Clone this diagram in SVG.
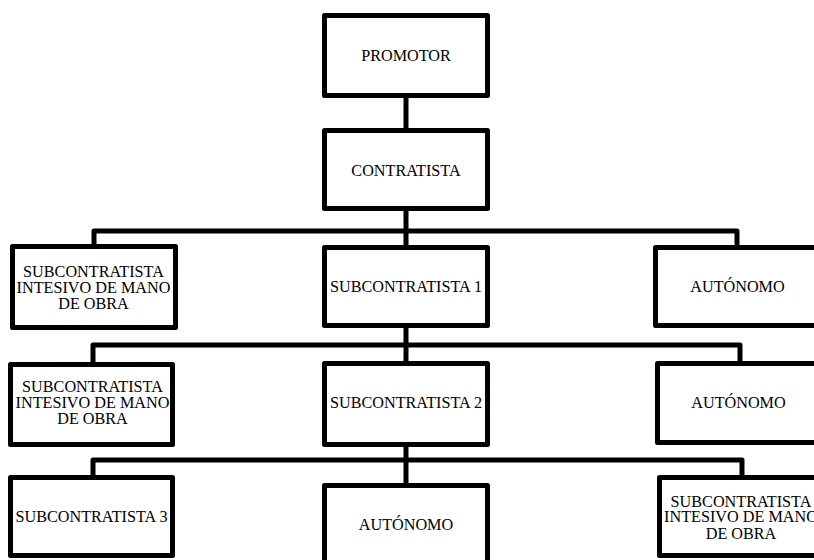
<svg xmlns="http://www.w3.org/2000/svg" width="814" height="560" viewBox="0 0 814 560">
<style>
.box{fill:#fff;stroke:#000;stroke-width:5;stroke-linejoin:round}
.con{fill:none;stroke:#000;stroke-width:5;stroke-linejoin:round}
text{font-family:"Liberation Serif","Times New Roman",serif;font-size:16.2px;fill:#000;text-anchor:middle}
</style>
<rect width="814" height="560" fill="#fff"/>
<g id="connectors">
<path class="con" d="M406 98V128"/>
<path class="con" d="M406 211V231M94 244V231H737V245M406 231V245"/>
<path class="con" d="M406 328V345M93 362V345H740V361M406 345V361"/>
<path class="con" d="M406 447V460M93 475V460H742V475M406 460V483"/>
</g>
<g id="promotor"><rect class="box" x="324.5" y="15.5" width="163" height="80"/><text x="406" y="61">PROMOTOR</text></g>
<g id="contratista"><rect class="box" x="324.5" y="130.5" width="163" height="78"/><text x="406" y="176">CONTRATISTA</text></g>
<g id="sub-intensivo-1"><rect class="box" x="12.5" y="246.5" width="163" height="81"/><text x="93.5" y="277">SUBCONTRATISTA</text><text x="93.5" y="292.5">INTESIVO DE MANO</text><text x="93.5" y="308.5">DE OBRA</text></g>
<g id="subcontratista-1"><rect class="box" x="324.5" y="247.5" width="163" height="78"/><text x="406" y="292">SUBCONTRATISTA 1</text></g>
<g id="autonomo-1"><rect class="box" x="655.5" y="247.5" width="170" height="78"/><text x="737.5" y="292">AUTÓNOMO</text></g>
<g id="sub-intensivo-2"><rect class="box" x="10.5" y="364.5" width="162" height="80"/><text x="92.5" y="392">SUBCONTRATISTA</text><text x="92.5" y="407.5">INTESIVO DE MANO</text><text x="92.5" y="423.5">DE OBRA</text></g>
<g id="subcontratista-2"><rect class="box" x="324.5" y="363.5" width="163" height="81"/><text x="406" y="408">SUBCONTRATISTA 2</text></g>
<g id="autonomo-2"><rect class="box" x="657.5" y="363.5" width="170" height="79"/><text x="738.5" y="407.5">AUTÓNOMO</text></g>
<g id="subcontratista-3"><rect class="box" x="10.5" y="477.5" width="162" height="78"/><text x="91.5" y="521.5">SUBCONTRATISTA 3</text></g>
<g id="autonomo-3"><rect class="box" x="324.5" y="485.5" width="163" height="90"/><text x="406" y="529.5">AUTÓNOMO</text></g>
<g id="sub-intensivo-3"><rect class="box" x="659.5" y="477.5" width="170" height="78"/><text x="741" y="506.5">SUBCONTRATISTA</text><text x="741" y="522">INTESIVO DE MANO</text><text x="741" y="539">DE OBRA</text></g>
</svg>
